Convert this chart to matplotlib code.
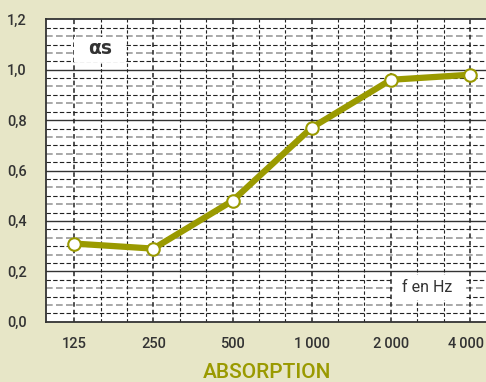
import matplotlib
matplotlib.use('Agg')
import matplotlib.pyplot as plt
from matplotlib.patches import Rectangle
from matplotlib.transforms import ScaledTranslation
import numpy as np

freqs  = [125, 250, 500, 1000, 2000, 4000]
alpha  = [0.31, 0.29, 0.48, 0.77, 0.96, 0.98]
xlabels = ['125', '250', '500', '1\u2009000', '2\u2009000', '4\u2009000']
ylabels = ['0,0', '0,2', '0,4', '0,6', '0,8', '1,0', '1,2']

bg    = '#e7e6c7'
olive = '#9a9a00'
dark  = '#333333'

fig = plt.figure(figsize=(4.86, 3.82), dpi=100)
fig.patch.set_facecolor(bg)
ax = fig.add_axes([46/486, (382-321.7)/382, (486-46)/486, (321.7-19.3)/382])
ax.set_facecolor('white')

ax.set_xscale('log', base=2)
ax.set_xlim(97.6, 4600)
ax.set_ylim(0, 1.2)

# horizontal grid
for k in range(1, 36):
    y = k * 0.2 / 6
    if k % 6 == 0:
        ax.axhline(y, color=dark, lw=1.0, zorder=1)
    elif k % 2 == 1:
        ax.axhline(y, color='#222222', lw=0.8, ls=(0, (4, 2)), zorder=1)
    else:
        ax.axhline(y, color='#999999', lw=1.2, ls=(0, (4, 2)), zorder=1)

# vertical grid
for k in range(0, 18):
    f = 125 * 2 ** (k / 3)
    if k % 3 == 0:
        ax.axvline(f, color='#222222', lw=1.1, ls=(0, (3, 2)), zorder=1)
    else:
        ax.axvline(f, color='#222222', lw=0.8, ls=(0, (3, 2)), zorder=1)

ax.plot(freqs, alpha, color=olive, lw=4.5, zorder=3,
        marker='o', ms=9, mfc='white', mec=olive, mew=1.5)

ax.set_xticks(freqs)
ax.set_xticklabels(xlabels)
ax.xaxis.set_minor_locator(matplotlib.ticker.NullLocator())
ax.set_yticks(np.arange(0, 1.21, 0.2))
ax.set_yticklabels(ylabels)
ax.tick_params(length=0, colors=dark, labelsize=10.5)
for lab in ax.get_xticklabels() + ax.get_yticklabels():
    lab.set_fontfamily(['Roboto', 'DejaVu Sans'])
    lab.set_fontweight('medium')
ax.tick_params(axis='x', pad=11)
ax.tick_params(axis='y', pad=14)

# keep the last label inside the figure
last = ax.get_xticklabels()[-1]
last.set_transform(last.get_transform() + ScaledTranslation(-4/100, 0, fig.dpi_scale_trans))

for side in ['left', 'bottom', 'top']:
    ax.spines[side].set_color(dark)
    ax.spines[side].set_linewidth(1.3)
ax.spines['right'].set_visible(False)

ax.add_patch(Rectangle((0.0636, 0.859), 0.118, 0.0827, transform=ax.transAxes,
                       fc='white', ec='none', zorder=4))
ax.text(0.123, 0.902, 'αs', transform=ax.transAxes, ha='center', va='center',
        fontsize=13.5, fontweight='bold', color=dark, family='DejaVu Sans', zorder=5)
ax.add_patch(Rectangle((0.789, 0.0718), 0.164, 0.0827, transform=ax.transAxes,
                       fc='white', ec='none', zorder=4))
ax.text(0.866, 0.113, 'f en Hz', transform=ax.transAxes, ha='center', va='center',
        fontsize=11.5, color=dark, family='Roboto', zorder=5)

fig.text(267/486, 1 - 372/382, 'ABSORPTION', ha='center', va='center',
         fontsize=15, color=olive, family='Roboto', fontweight='medium')

fig.savefig('out.png', dpi=100, facecolor=bg)
